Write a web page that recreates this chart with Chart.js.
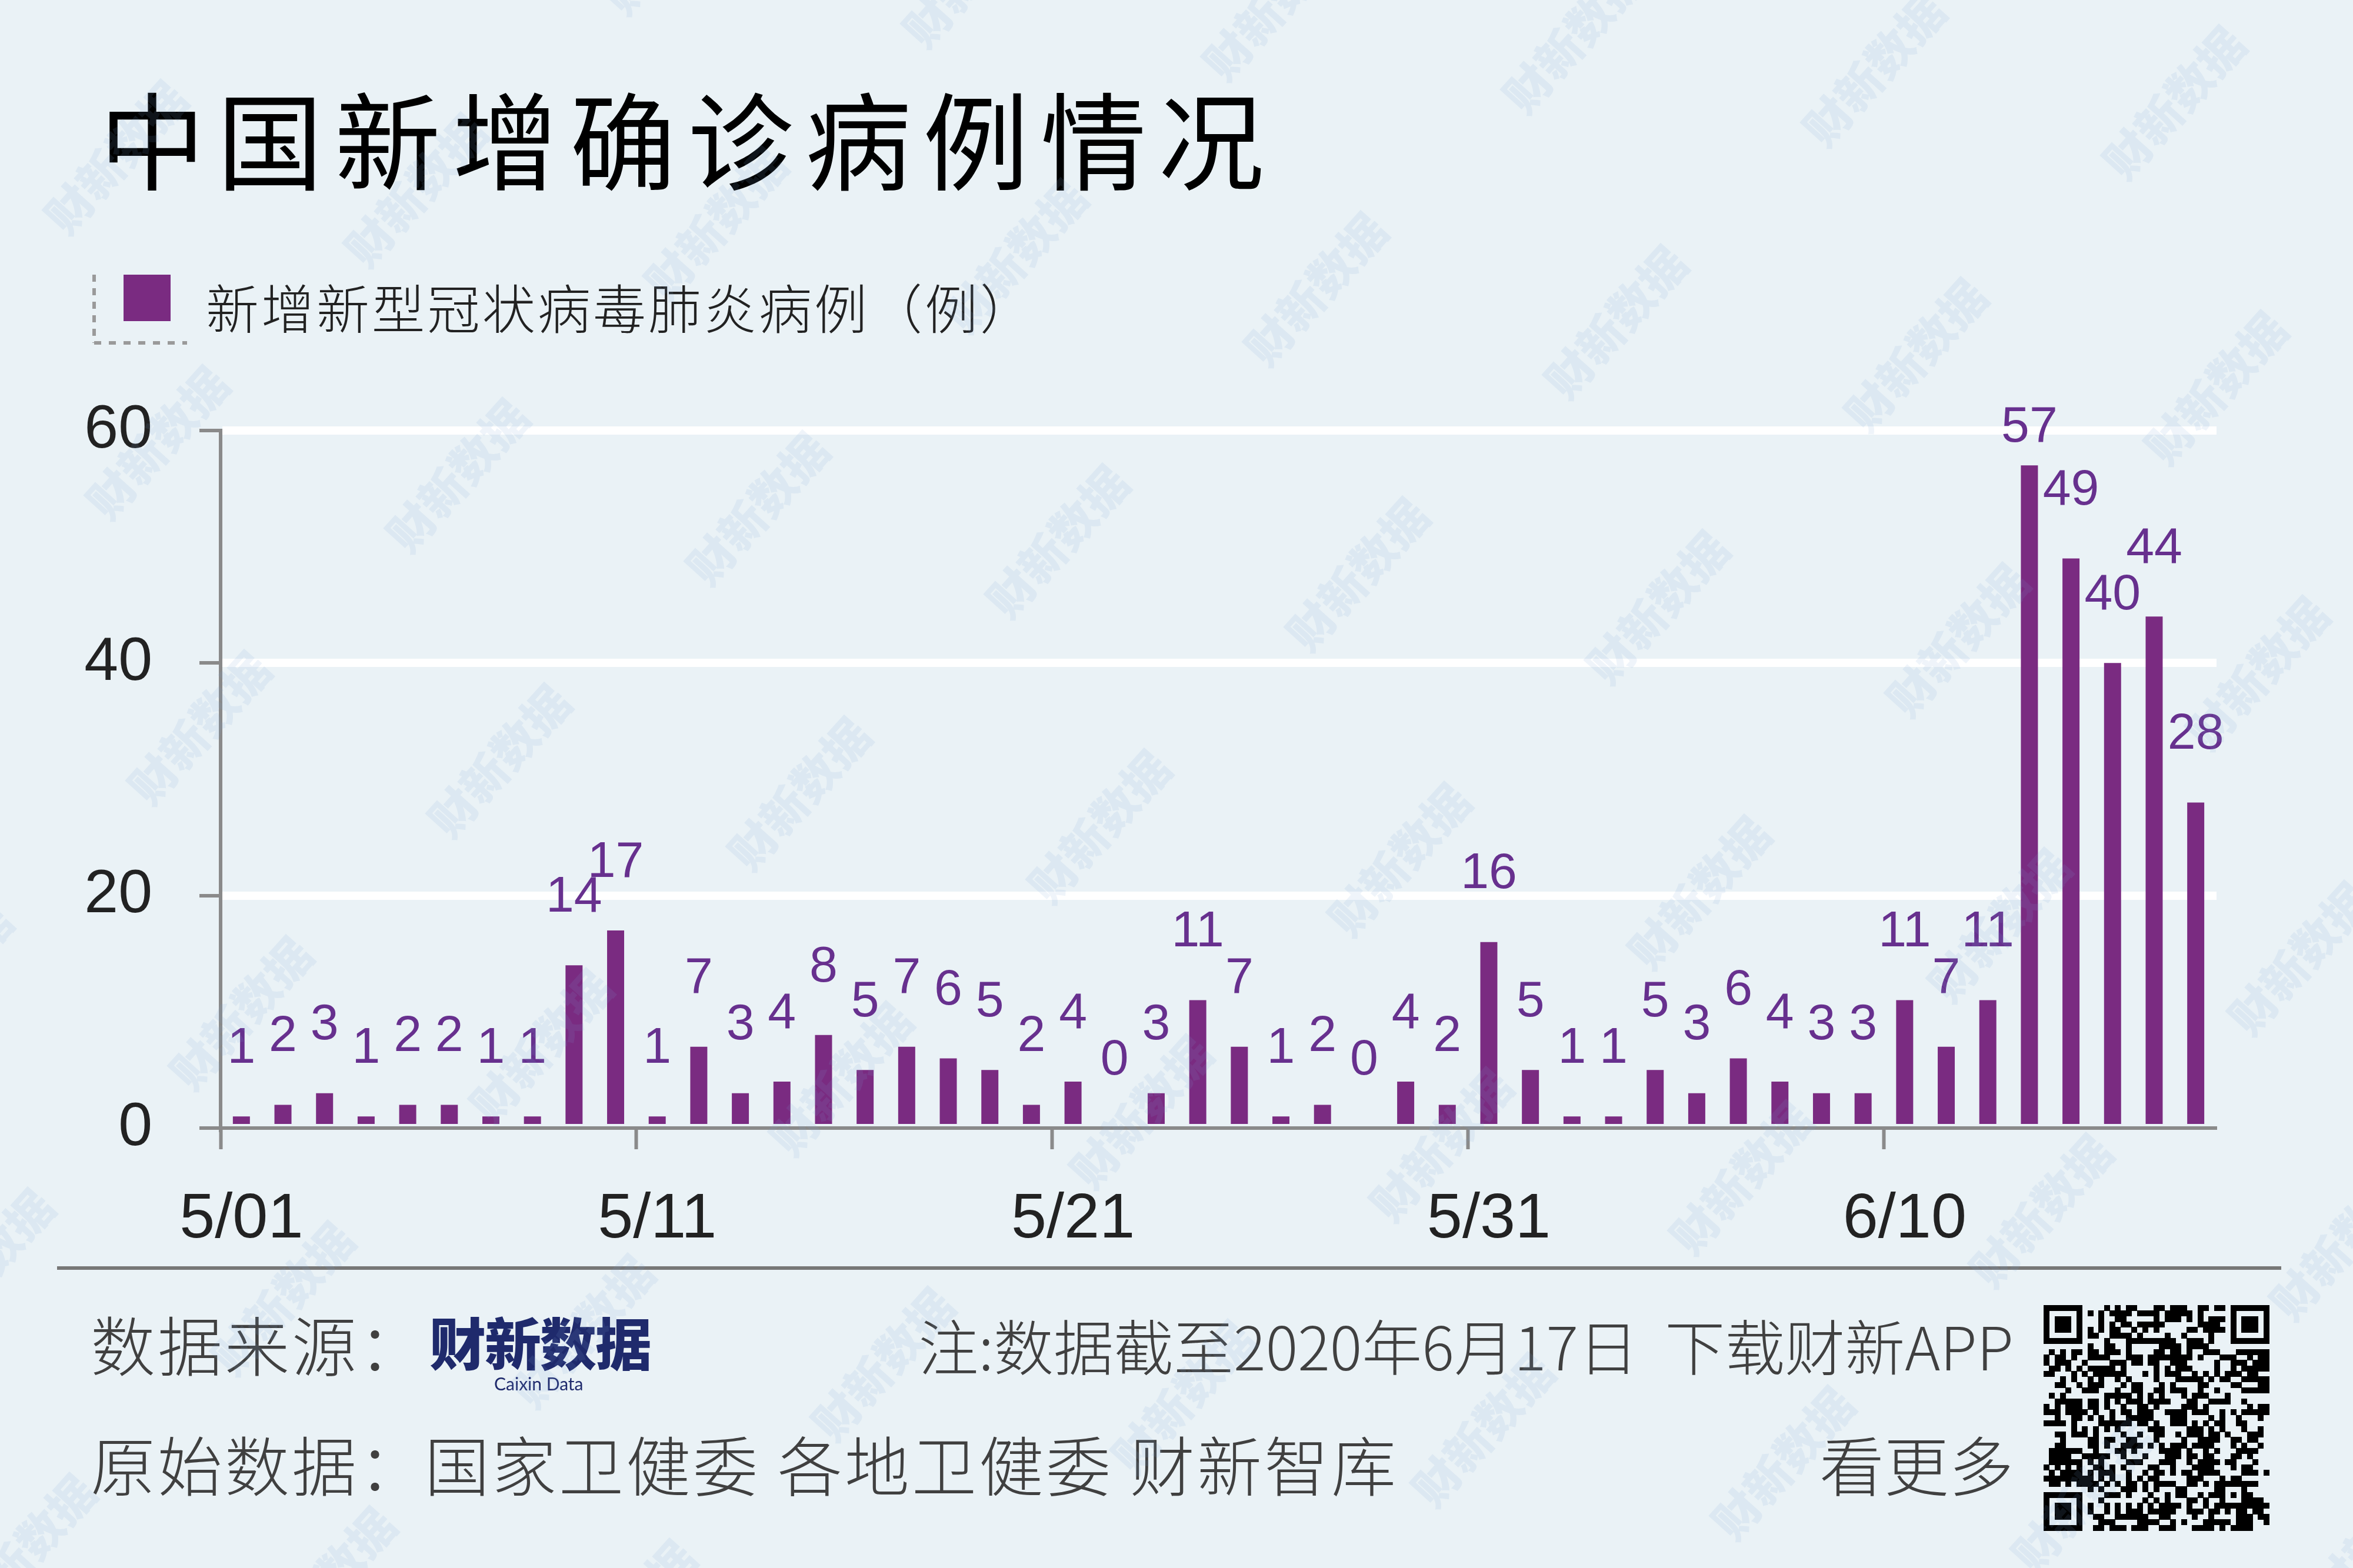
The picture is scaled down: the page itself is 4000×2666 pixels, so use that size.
<!DOCTYPE html>
<html lang="zh">
<head>
<meta charset="UTF-8">
<title>中国新增确诊病例情况</title>
<script src="https://cdn.jsdelivr.net/npm/chart.js"></script>
<style>
  body { margin: 0; }
  #page { position: relative; width: 4000px; height: 2666px; background: #eaf2f6; overflow: hidden; font-family: "Noto Sans CJK SC", sans-serif; }
  .txt { position: absolute; white-space: nowrap; }
  #title { left: 169px; top: 141px; font-size: 180px; line-height: 180px; font-weight: 400; letter-spacing: 20px; color: #000; }
  #legendText { left: 350px; top: 475px; font-size: 90px; line-height: 90px; font-weight: 300; letter-spacing: 4px; color: #222; }
  #legendBox { position: absolute; left: 210px; top: 467px; width: 80px; height: 79px; background: #7a2b81; }
  .foot { font-size: 110px; line-height: 110px; font-weight: 300; letter-spacing: 4px; color: #404040; }
  .note { font-size: 102px; line-height: 102px; font-weight: 300; color: #404040; }
  #rule { position: absolute; left: 97px; top: 2153px; width: 3781px; height: 6px; background: #777; }
  #logo { left: 730px; top: 2232px; font-size: 96px; line-height: 96px; font-weight: 900; color: #1f2a6c; letter-spacing: -2px; }
  #logoSub { left: 840px; top: 2337px; font-family: Lato, sans-serif; font-size: 30px; line-height: 30px; color: #1f2a6c; }
  canvas { position: absolute; left: 0; top: 0; }
</style>
</head>
<body>
<div id="page">
  <div class="txt" id="title">中国新增确诊病例情况</div>
  <svg style="position:absolute;left:150px;top:460px" width="180" height="130">
    <line x1="10" y1="7" x2="10" y2="123" stroke="#9a9a9a" stroke-width="6" stroke-dasharray="12 11"/>
    <line x1="10" y1="123" x2="168" y2="123" stroke="#9a9a9a" stroke-width="6" stroke-dasharray="12 13"/>
  </svg>
  <div id="legendBox"></div>
  <div class="txt" id="legendText">新增新型冠状病毒肺炎病例（例）</div>

  <canvas id="chart" width="4000" height="2666"></canvas>

  <div id="rule"></div>
  <div class="txt foot" style="left:154px;top:2228px">数据来源：</div>
  <div class="txt" id="logo">财新数据</div>
  <div class="txt" id="logoSub">Caixin Data</div>
  <div class="txt note" style="right:577px;top:2235px">注:数据截至2020年6月17日&nbsp;&nbsp;下载财新APP</div>
  <div class="txt foot" style="left:154px;top:2432px">原始数据：</div>
  <div class="txt foot" style="left:722px;top:2432px">国家卫健委</div>
  <div class="txt foot" style="left:1322px;top:2432px">各地卫健委</div>
  <div class="txt foot" style="left:1921px;top:2432px">财新智库</div>
  <div class="txt foot" style="right:577px;top:2432px;letter-spacing:0">看更多</div>

  <canvas id="qr" width="4000" height="2666"></canvas>
  <canvas id="wm" width="4000" height="2666"></canvas>
</div>

<script>
// daily new cases, 5/01 .. 6/17
const days = [
  '5/01','5/02','5/03','5/04','5/05','5/06','5/07','5/08','5/09','5/10',
  '5/11','5/12','5/13','5/14','5/15','5/16','5/17','5/18','5/19','5/20',
  '5/21','5/22','5/23','5/24','5/25','5/26','5/27','5/28','5/29','5/30',
  '5/31','6/01','6/02','6/03','6/04','6/05','6/06','6/07','6/08','6/09',
  '6/10','6/11','6/12','6/13','6/14','6/15','6/16','6/17'
];
const cases = [
  1, 2, 3, 1, 2, 2, 1, 1, 14, 17,
  1, 7, 3, 4, 8, 5, 7, 6, 5, 2,
  4, 0, 3, 11, 7, 1, 2, 0, 4, 2,
  16, 5, 1, 1, 5, 3, 6, 4, 3, 3,
  11, 7, 11, 57, 49, 40, 44, 28
];
const tickDays = ['5/01', '5/11', '5/21', '5/31', '6/10'];
const yTicks = [0, 20, 40, 60];

const barColor = '#7a2b81';
const labelColor = '#67308e';
const axisColor = '#8a8a8a';

// value labels above the bars
const valueLabels = {
  id: 'valueLabels',
  afterDatasetsDraw(chart) {
    const c = chart.ctx;
    const meta = chart.getDatasetMeta(0);
    c.save();
    c.font = '86px "Liberation Sans", Arial, sans-serif';
    c.fillStyle = labelColor;
    c.textAlign = 'center';
    c.textBaseline = 'middle';
    meta.data.forEach((bar, i) => {
      const y = Math.max(bar.y - 115, 727);
      c.fillText(String(cases[i]), bar.x, y);
    });
    c.restore();
  }
};

new Chart(document.getElementById('chart'), {
  type: 'bar',
  data: {
    labels: days,
    datasets: [{
      label: '新增新型冠状病毒肺炎病例（例）',
      data: cases,
      backgroundColor: barColor,
      barPercentage: 0.41,
      categoryPercentage: 1
    }]
  },
  options: {
    responsive: false,
    animation: false,
    devicePixelRatio: 1,
    layout: { padding: { top: 732, right: 232, bottom: 548, left: 0 } },
    plugins: { legend: { display: false }, tooltip: { enabled: false } },
    scales: {
      x: {
        afterFit(scale) { scale.height = 200; },
        border: { color: axisColor, width: 6 },
        grid: {
          offset: true,
          drawOnChartArea: false,
          drawTicks: true,
          tickLength: 36,
          tickWidth: 6,
          color: ctx => tickDays.includes(days[ctx.index]) ? axisColor : 'transparent',
          tickColor: ctx => tickDays.includes(days[ctx.index]) ? axisColor : 'transparent'
        },
        ticks: {
          autoSkip: false,
          maxRotation: 0,
          padding: 55,
          color: '#222',
          font: { family: '"Liberation Sans", Arial, sans-serif', size: 108 },
          callback(value) {
            const lab = this.getLabelForValue(value);
            return tickDays.includes(lab) ? lab : '';
          }
        }
      },
      y: {
        min: 0,
        max: 60,
        afterFit(scale) { scale.width = 375; },
        afterBuildTicks(scale) { scale.ticks = yTicks.map(v => ({ value: v })); },
        border: { color: axisColor, width: 6 },
        grid: {
          color: ctx => (ctx.tick && ctx.tick.value === 0) ? 'transparent' : '#ffffff',
          lineWidth: 14,
          tickColor: axisColor,
          tickWidth: 6,
          tickLength: 36
        },
        ticks: {
          padding: 80,
          color: '#222',
          font: { family: '"Liberation Sans", Arial, sans-serif', size: 104 }
        }
      }
    }
  },
  plugins: [valueLabels]
});

// QR-like block (decorative)
(function () {
  const c = document.getElementById('qr').getContext('2d');
  const n = 41, x0 = 3474, y0 = 2219, m = 383 / n;
  let s = 12345;
  const rnd = () => { s = (s * 1103515245 + 12345) & 0x7fffffff; return s / 0x7fffffff; };
  const grid = [];
  for (let r = 0; r < n; r++) { grid.push([]); for (let q = 0; q < n; q++) grid[r].push(rnd() < 0.5); }
  const finder = (r0, q0) => {
    for (let r = -1; r < 8; r++) for (let q = -1; q < 8; q++) {
      const rr = r0 + r, qq = q0 + q;
      if (rr < 0 || qq < 0 || rr >= n || qq >= n) continue;
      const edge = r === 0 || r === 6 || q === 0 || q === 6;
      const core = r >= 2 && r <= 4 && q >= 2 && q <= 4;
      grid[rr][qq] = (r >= 0 && r <= 6 && q >= 0 && q <= 6) && (edge || core);
    }
  };
  finder(0, 0); finder(0, n - 7); finder(n - 7, 0);
  for (let r = 32; r <= 36; r++) for (let q = 32; q <= 36; q++) {
    grid[r][q] = r === 32 || r === 36 || q === 32 || q === 36 || (r === 34 && q === 34);
  }
  c.fillStyle = '#000';
  for (let r = 0; r < n; r++) for (let q = 0; q < n; q++) {
    if (grid[r][q]) c.fillRect(Math.round(x0 + q * m), Math.round(y0 + r * m), Math.ceil(m), Math.ceil(m));
  }
})();

// faint diagonal watermark
(function () {
  const c = document.getElementById('wm').getContext('2d');
  c.font = '900 78px "Noto Sans CJK SC", sans-serif';
  c.fillStyle = 'rgba(120, 165, 215, 0.12)';
  c.textAlign = 'center';
  c.textBaseline = 'middle';
  for (let i = -4; i < 10; i++) {
    for (let j = -3; j < 7; j++) {
      const x = 268 + i * 510 + j * 71;
      const y = 753 + i * 56 + j * 485;
      if (x < -300 || x > 4300 || y < -300 || y > 2966) continue;
      c.save();
      c.translate(x, y);
      c.rotate(-48 * Math.PI / 180);
      c.fillText('财新数据', 0, 0);
      c.restore();
    }
  }
})();
</script>
</body>
</html>
